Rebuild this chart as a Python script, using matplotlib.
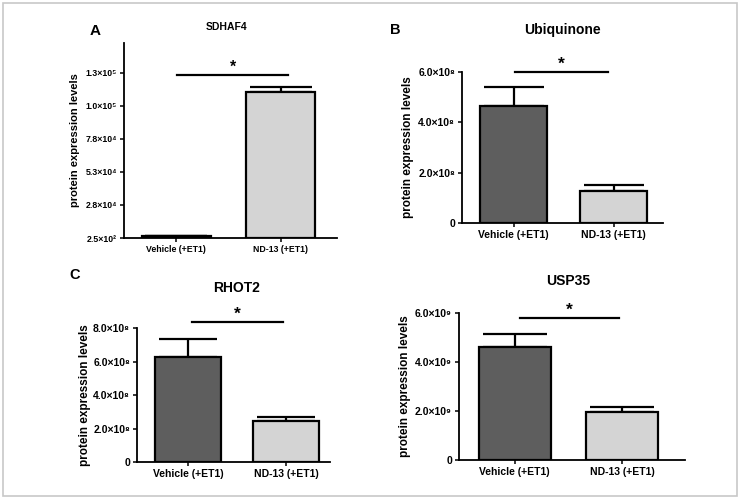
import matplotlib
matplotlib.use("Agg")
import matplotlib.pyplot as plt
from matplotlib.patches import Rectangle

plt.rcParams['font.family'] = ['Liberation Sans', 'DejaVu Sans']

groups = ["Vehicle (+ET1)", "ND-13 (+ET1)"]
colors = ["#5e5e5e", "#d4d4d4"]

# Panel A (SDHAF4)
a_vals = [1500, 110700]
a_err = [400, 3800]
a_ticks = [250, 25250, 50250, 75250, 100250, 125250]
a_labels = ["2.5\u00d710\u00b2", "2.8\u00d710\u2074", "5.3\u00d710\u2074", "7.8\u00d710\u2074",
            "1.0\u00d710\u2075", "1.3\u00d710\u2075"]
# Panel B (Ubiquinone)
b_vals = [4.64e8, 1.28e8]
b_err = [0.76e8, 0.24e8]
b_ticks = [0, 2e8, 4e8, 6e8]
b_labels = ["0", "2.0\u00d710\u2078", "4.0\u00d710\u2078", "6.0\u00d710\u2078"]
# Panel C (RHOT2)
c_vals = [6.27e8, 2.45e8]
c_err = [1.07e8, 0.24e8]
c_ticks = [0, 2e8, 4e8, 6e8, 8e8]
c_labels = ["0", "2.0\u00d710\u2078", "4.0\u00d710\u2078", "6.0\u00d710\u2078", "8.0\u00d710\u2078"]
# Panel D (USP35)
d_vals = [4.61e9, 1.96e9]
d_err = [0.53e9, 0.20e9]
d_ticks = [0, 2e9, 4e9, 6e9]
d_labels = ["0", "2.0\u00d710\u2079", "4.0\u00d710\u2079", "6.0\u00d710\u2079"]

W, H = 740, 498
fig = plt.figure(figsize=(W / 100, H / 100), dpi=100)
fig.patch.set_facecolor("white")
fig.add_artist(Rectangle((0.004, 0.004), 0.992, 0.99, transform=fig.transFigure,
                         fill=False, edgecolor="#c8c8c8", lw=1.2))


def panel(rect, centers, width, vals, errs, ticks, labels, ymin, ymax, title, letter,
          title_xy, letter_xy, ylabel_x, sig_y, sig_x, fs, tfs, yfs, lfs):
    left, right, top, bottom = rect
    ax = fig.add_axes([left / W, 1 - bottom / H, (right - left) / W, (bottom - top) / H])
    sp = centers[1] - centers[0]
    x0 = -(centers[0] - left) / sp
    x1 = 1 + (right - centers[1]) / sp
    ax.set_xlim(x0, x1)
    ax.set_ylim(ymin, ymax)
    bw = width / sp
    for i, (v, e) in enumerate(zip(vals, errs)):
        ax.bar(i, v - ymin, bottom=ymin, width=bw, color=colors[i], edgecolor="black",
               linewidth=1.6, zorder=2)
        ax.errorbar(i, v, yerr=[[0], [e]], color="black", capsize=width * 0.32,
                    capthick=1.6, elinewidth=1.6, zorder=1)
    for s in ["top", "right"]:
        ax.spines[s].set_visible(False)
    for s in ["left", "bottom"]:
        ax.spines[s].set_linewidth(1.3)
    ax.set_yticks(ticks)
    ax.set_yticklabels(labels, fontsize=fs, fontweight="bold")
    ax.set_xticks([0, 1])
    ax.set_xticklabels(groups, fontsize=fs, fontweight="bold")
    ax.tick_params(axis="both", length=3, width=1.1, pad=2)
    ax.patch.set_alpha(0)
    fig.text(title_xy[0] / W, 1 - title_xy[1] / H, title, fontsize=tfs,
             fontweight="bold", ha="center", va="center")
    fig.text(letter_xy[0] / W, 1 - letter_xy[1] / H, letter, fontsize=lfs,
             fontweight="bold", ha="center", va="center")
    fig.text(ylabel_x / W, 1 - (top + bottom) / 2 / H, "protein expression levels",
             fontsize=yfs, fontweight="bold", rotation=90, ha="center", va="center")
    fig.add_artist(plt.Line2D([sig_x[0] / W, sig_x[1] / W], [1 - sig_y / H, 1 - sig_y / H],
                              transform=fig.transFigure, color="black", lw=1.6))
    fig.text((sig_x[0] + sig_x[1]) / 2 / W, 1 - (sig_y - 8) / H, "*", fontsize=fs + 5,
             fontweight="bold", ha="center", va="center")
    return ax


panel((124, 337, 43, 238), (176, 280.5), 69, a_vals, a_err, a_ticks, a_labels,
      250, 147750, "SDHAF4", "A", (227, 27), (95, 31), 75, 75, (177, 288),
      6.3, 7.5, 8, 11)
panel((462, 663, 72, 223), (513.5, 613.5), 67, b_vals, b_err, b_ticks, b_labels,
      0, 6e8, "Ubiquinone", "B", (562, 30), (395, 30), 408, 72, (515, 608),
      7.5, 10, 8.5, 10.5)
panel((137, 330, 328, 462), (188, 286), 66, c_vals, c_err, c_ticks, c_labels,
      0, 8e8, "RHOT2", "C", (237, 288), (75, 275), 85, 322, (192, 283),
      7.5, 10, 8.5, 10.5)
panel((459, 685, 313, 460), (514.5, 622), 72, d_vals, d_err, d_ticks, d_labels,
      0, 6e9, "USP35", "", (568, 281), (400, 270), 405, 318, (520, 619),
      7.5, 10, 8.5, 10.5)

fig.savefig("out.png", dpi=100)
